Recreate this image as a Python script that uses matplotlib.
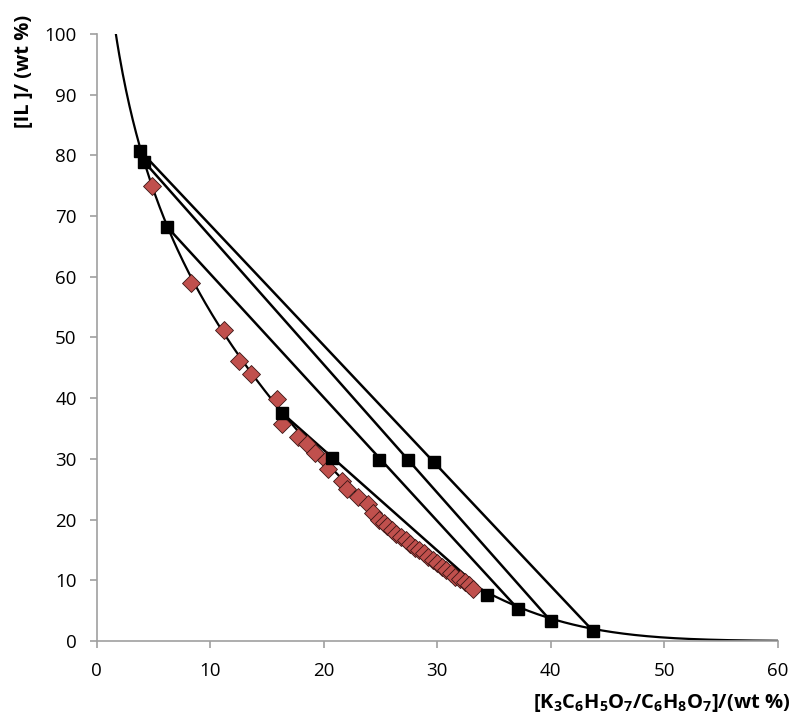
import numpy as np
import matplotlib
matplotlib.use("Agg")
import matplotlib.pyplot as plt

plt.rcParams['font.family'] = ['Open Sans', 'DejaVu Sans']
plt.rcParams['mathtext.fontset'] = 'custom'
plt.rcParams['mathtext.rm'] = 'Open Sans:bold'
plt.rcParams['mathtext.it'] = 'Open Sans:bold'
plt.rcParams['mathtext.bf'] = 'Open Sans:bold'

# Binodal experimental data (salt wt %, IL wt %)
binodal_x = [4.85, 8.3, 11.2, 12.5, 13.6, 15.9, 16.3, 17.7, 18.5, 19.2, 20.2, 20.4,
             21.6, 22.0, 23.0, 23.9, 24.3, 24.9, 25.3, 25.6, 26.0, 26.4, 26.8, 27.2,
             27.6, 28.0, 28.4, 28.8, 29.2, 29.6, 30.0, 30.4, 30.8, 31.2, 31.6, 32.0,
             32.4, 32.8, 33.1]
binodal_y = [75.0, 59.0, 51.2, 46.2, 44.0, 39.9, 35.8, 33.6, 32.5, 31.0, 29.8, 28.4,
             26.3, 25.1, 23.7, 22.5, 21.1, 20.0, 19.5, 19.0, 18.3, 17.7, 17.1, 16.6,
             16.0, 15.3, 15.0, 14.5, 13.9, 13.4, 12.8, 12.2, 11.7, 11.2, 10.6, 10.2,
             9.7, 9.2, 8.6]

# Tie-lines: top phase, total mixture, bottom phase
tl_top_x = [3.8, 4.2, 6.2, 16.3]
tl_top_y = [80.8, 78.9, 68.2, 37.6]
tl_mix_x = [29.7, 27.4, 24.9, 20.7]
tl_mix_y = [29.5, 29.8, 29.8, 30.1]
tl_bot_x = [43.7, 40.0, 37.1, 34.4]
tl_bot_y = [1.7, 3.3, 5.3, 7.6]

# Merchuk fit parameters: y = A*exp(B*x^0.5 - C*x^3)
A, B, C = 150.0, -0.313, 2.69e-5

fig = plt.figure(figsize=(8, 7.27), dpi=100)
ax = fig.add_axes([0.121, 0.1183, 0.8513, 0.835])

xc = np.linspace(1.0, 60, 600)
yc = A * np.exp(B * np.sqrt(xc) - C * xc ** 3)
ax.plot(xc, yc, color='black', lw=1.6, zorder=2)

for i in range(len(tl_top_x)):
    ax.plot([tl_top_x[i], tl_bot_x[i]], [tl_top_y[i], tl_bot_y[i]],
            color='black', lw=1.8, zorder=2)

ax.plot(binodal_x, binodal_y, linestyle='none', marker='D', markersize=9.5,
        markerfacecolor='#C0504D', markeredgecolor='#3a1514', markeredgewidth=0.6, zorder=3)

sq_x = tl_top_x + tl_mix_x + tl_bot_x
sq_y = tl_top_y + tl_mix_y + tl_bot_y
ax.plot(sq_x, sq_y, linestyle='none', marker='s', markersize=9,
        markerfacecolor='black', markeredgecolor='black', zorder=4)

ax.set_xlim(0, 60)
ax.set_ylim(0, 100)
ax.set_xticks(np.arange(0, 61, 10))
ax.set_yticks(np.arange(0, 101, 10))
for s in ['top', 'right']:
    ax.spines[s].set_visible(False)
for s in ['left', 'bottom']:
    ax.spines[s].set_color('#A0A0A0')
    ax.spines[s].set_linewidth(1.2)
ax.tick_params(direction='out', length=5, width=1.2, color='#A0A0A0', labelsize=13.5, pad=9.5)
ax.tick_params(axis='x', pad=10)

ax.set_xlabel(r'[K$_3$C$_6$H$_5$O$_7$/C$_6$H$_8$O$_7$]/(wt %)', fontsize=14.5,
              fontweight='bold', loc='right')
ax.xaxis.set_label_coords(1.018, -0.084)
ax.set_ylabel('[IL ]/ (wt %)', fontsize=14.5, fontweight='bold', loc='top')
ax.yaxis.set_label_coords(-0.092, 1.032)

fig.savefig('out.png', dpi=100)
